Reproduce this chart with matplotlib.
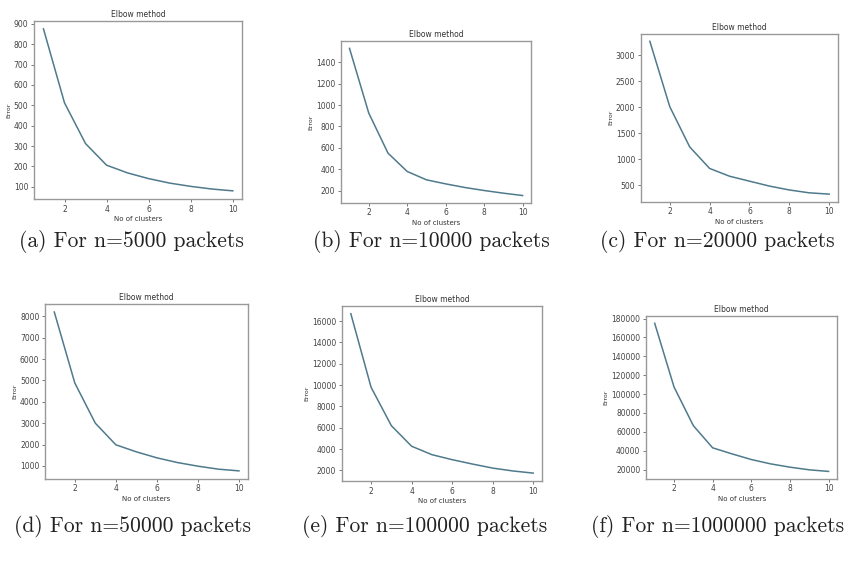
import matplotlib.pyplot as plt

# Кількість кластерів
clusters = [1, 2, 3, 4, 5, 6, 7, 8, 9, 10]

# Похибка (inertia) для кожного розміру вибірки
err_5000 = [875, 512, 312, 206, 168, 140, 118, 102, 89, 80]
err_10000 = [1530, 925, 550, 378, 300, 262, 228, 200, 175, 153]
err_20000 = [3270, 2010, 1235, 820, 670, 575, 480, 405, 350, 325]
err_50000 = [8200, 4880, 3000, 1990, 1660, 1380, 1160, 990, 850, 770]
err_100000 = [16700, 9800, 6200, 4270, 3480, 3010, 2600, 2220, 1950, 1750]
err_1000000 = [175000, 107500, 66500, 43000, 36600, 30600, 26000, 22500, 19700, 18000]

captions = [
    "(a) For n=5000 packets",
    "(b) For n=10000 packets",
    "(c) For n=20000 packets",
    "(d) For n=50000 packets",
    "(e) For n=100000 packets",
    "(f) For n=1000000 packets",
]
series = [err_5000, err_10000, err_20000, err_50000, err_100000, err_1000000]

# [left, bottom, width, height] кожної панелі та центр підпису
boxes = [
    [0.040, 0.646, 0.245, 0.317],
    [0.401, 0.639, 0.224, 0.288],
    [0.754, 0.641, 0.232, 0.299],
    [0.053, 0.148, 0.239, 0.311],
    [0.402, 0.144, 0.236, 0.312],
    [0.760, 0.148, 0.225, 0.290],
]
cap_pos = [
    (0.155, 0.570), (0.508, 0.570), (0.844, 0.570),
    (0.156, 0.064), (0.500, 0.064), (0.844, 0.064),
]

fig = plt.figure(figsize=(8.5, 5.62), dpi=100)

for vals, box, cap, (cx, cy) in zip(series, boxes, captions, cap_pos):
    ax = fig.add_axes(box)
    ax.plot(clusters, vals, color="#4f7a8c", lw=1.1)
    ax.set_title("Elbow method", fontsize=5.5, color="#333333", pad=3)
    ax.set_xlabel("No of clusters", fontsize=5, color="#333333", labelpad=2)
    ax.set_ylabel("Error", fontsize=4.5, color="#333333", labelpad=2)
    ax.set_xticks([2, 4, 6, 8, 10])
    ax.tick_params(labelsize=5.5, colors="#444444", length=2, width=0.5, pad=2)
    for sp in ax.spines.values():
        sp.set_color("#999999")
        sp.set_linewidth(1.0)
    fig.text(cx, cy, cap, ha="center", va="center", fontsize=15.5,
             family="cmr10", color="#222222")

fig.savefig("out.png", dpi=100)
